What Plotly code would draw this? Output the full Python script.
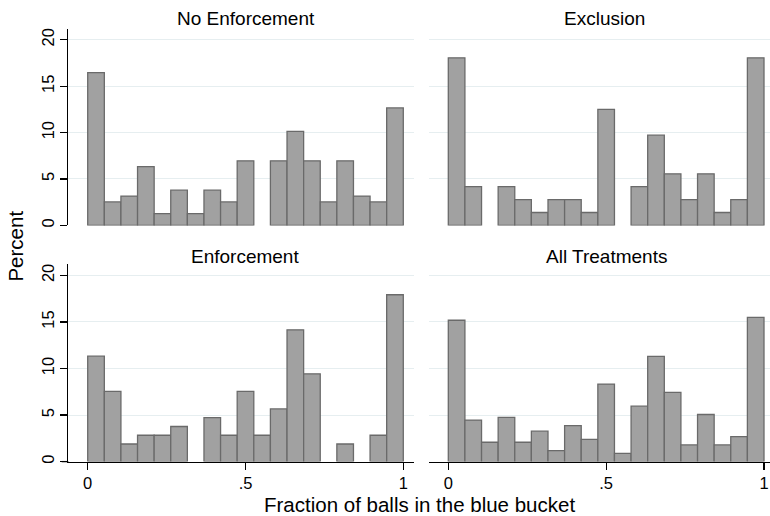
import numpy as np
import plotly.graph_objects as go

# ---- data (percent of observations per bin, 19 equal bins on [0, 1]) ----
n_bins = 19
panel_titles = ["No Enforcement", "Exclusion", "Enforcement", "All Treatments"]
no_enforcement = [16.46, 2.53, 3.16, 6.33, 1.27, 3.80, 1.27, 3.80, 2.53, 6.96,
                  0, 6.96, 10.13, 6.96, 2.53, 6.96, 3.16, 2.53, 12.66]
exclusion = [18.06, 4.17, 0, 4.17, 2.78, 1.39, 2.78, 2.78, 1.39, 12.50,
             0, 4.17, 9.72, 5.56, 2.78, 5.56, 1.39, 2.78, 18.06]
enforcement = [11.32, 7.55, 1.89, 2.83, 2.83, 3.77, 0, 4.72, 2.83, 7.55,
               2.83, 5.66, 14.15, 9.43, 0, 1.89, 0, 2.83, 17.92]
all_treatments = [15.18, 4.46, 2.08, 4.76, 2.08, 3.27, 1.19, 3.87, 2.38, 8.33,
                  0.89, 5.95, 11.31, 7.44, 1.79, 5.06, 1.79, 2.68, 15.48]
y_ticks = [0, 5, 10, 15, 20]
x_ticks = [0, 0.5, 1]
x_tick_labels = ["0", ".5", "1"]
x_title = "Fraction of balls in the blue bucket"
y_title = "Percent"

# ---- layout helpers (page margin removed, figure fills the window) ----
W, H = 770, 516
def px_x(p):
    return p / W
def px_y(p):
    return 1 - p / H

edges = np.linspace(0, 1, n_bins + 1)
centers = (edges[:-1] + edges[1:]) / 2
width = edges[1] - edges[0]

FONT = "Liberation Sans, Arial, sans-serif"
FILL = "#a1a1a1"
EDGE = "#6a6a6a"
GRID = "#e6eef0"

fig = go.Figure()
series = [no_enforcement, exclusion, enforcement, all_treatments]
for i, vals in enumerate(series):
    ax = "" if i == 0 else str(i + 1)
    fig.add_trace(go.Bar(
        x=centers, y=[v if v > 0 else None for v in vals], width=width,
        marker=dict(color=FILL, line=dict(color=EDGE, width=1.3)),
        xaxis="x" + ax, yaxis="y" + ax, showlegend=False,
        hovertemplate="%{y:.2f}%<extra></extra>",
    ))

x_dom_left = [px_x(68.3), px_x(414.3)]
x_dom_right = [px_x(429.3), 1.0]
y_dom_top = [px_y(225.7), px_y(28.3)]
y_dom_bot = [px_y(463.3), px_y(265.0)]
x_rng_left = [-0.0615, 1.0349]
x_rng_right = [-0.0602, 1.019]
y_rng_top = [0, 21.15]
y_rng_bot = [0, 21.17]

tickfont = dict(family=FONT, size=16.5, color="black")

def xaxis(dom, rng, anchor, bottom):
    d = dict(domain=dom, range=rng, anchor=anchor, showgrid=False, zeroline=False,
             fixedrange=True)
    if bottom:
        d.update(showline=True, linecolor="black", linewidth=1.3, ticks="outside",
                 ticklen=6.6, tickwidth=1.2, tickcolor="black",
                 tickvals=x_ticks, ticktext=x_tick_labels, tickfont=tickfont,
                 ticklabeloverflow="allow")
    else:
        d.update(showline=False, showticklabels=False, ticks="")
    return d

def yaxis(dom, rng, anchor, left):
    d = dict(domain=dom, range=rng, anchor=anchor, showgrid=True, gridcolor=GRID,
             gridwidth=1, zeroline=False, tickvals=y_ticks, fixedrange=True)
    if left:
        d.update(showline=True, linecolor="black", linewidth=1.3, ticks="outside",
                 ticklen=6.6, tickwidth=1.2, tickcolor="black", tickangle=-90,
                 tickfont=tickfont)
    else:
        d.update(showline=False, showticklabels=False, ticks="")
    return d

fig.update_layout(
    width=W, height=H, margin=dict(l=0, r=0, t=0, b=0),
    paper_bgcolor="white", plot_bgcolor="white", bargap=0,
    xaxis=xaxis(x_dom_left, x_rng_left, "y", False),
    yaxis=yaxis(y_dom_top, y_rng_top, "x", True),
    xaxis2=xaxis(x_dom_right, x_rng_right, "y2", False),
    yaxis2=yaxis(y_dom_top, y_rng_top, "x2", False),
    xaxis3=xaxis(x_dom_left, x_rng_left, "y3", True),
    yaxis3=yaxis(y_dom_bot, y_rng_bot, "x3", True),
    xaxis4=xaxis(x_dom_right, x_rng_right, "y4", True),
    yaxis4=yaxis(y_dom_bot, y_rng_bot, "x4", False),
)

# short extension of the bottom-left x axis line to the end of the y ticks
fig.add_shape(type="line", xref="paper", yref="paper",
              x0=px_x(61.7), x1=px_x(68.3), y0=px_y(463.3), y1=px_y(463.3),
              line=dict(color="black", width=1.3))

title_pos = [(246.0, 17.3), (604.5, 17.3), (245.0, 256.5), (606.0, 256.5)]
for t, (cx, cy) in zip(panel_titles, title_pos):
    fig.add_annotation(text=t, x=px_x(cx), y=px_y(cy), xref="paper", yref="paper",
                       xanchor="center", yanchor="middle", showarrow=False,
                       font=dict(family=FONT, size=19, color="black"))

fig.add_annotation(text=x_title, x=px_x(420), y=px_y(506), xref="paper", yref="paper",
                   xanchor="center", yanchor="middle", showarrow=False,
                   font=dict(family=FONT, size=20.5, color="black"))
fig.add_annotation(text=y_title, x=px_x(16), y=px_y(247), xref="paper", yref="paper",
                   xanchor="center", yanchor="middle", showarrow=False, textangle=-90,
                   borderpad=0,
                   font=dict(family=FONT, size=20.5, color="black"))

fig.write_html(
    "out.html",
    config={"displayModeBar": False, "staticPlot": True},
    post_script="document.body.style.margin='0';document.body.style.padding='0';"
                "document.documentElement.style.overflow='hidden';",
)
